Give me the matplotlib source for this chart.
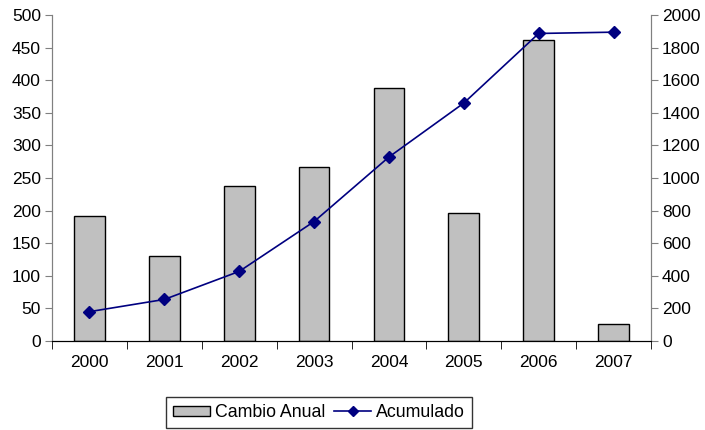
import matplotlib.pyplot as plt
import numpy as np

years = ['2000', '2001', '2002', '2003', '2004', '2005', '2006', '2007']
cambio_anual = [192, 130, 237, 267, 388, 197, 461, 26]
acumulado = [180, 255, 427, 733, 1129, 1460, 1887, 1895]

plt.rcParams['font.family'] = ['Liberation Sans', 'DejaVu Sans']
plt.rcParams['font.size'] = 12.5

fig = plt.figure(figsize=(7.05, 4.3), dpi=100)
ax = fig.add_axes([0.0738, 0.207, 0.8496, 0.758])
ax2 = ax.twinx()

x = np.arange(len(years))
bars = ax.bar(x, cambio_anual, width=0.41, color='#C0C0C0', edgecolor='black',
              linewidth=1, label='Cambio Anual', zorder=2)
line, = ax2.plot(x, acumulado, color='#000080', marker='D', markersize=6,
                 linewidth=1.2, label='Acumulado', zorder=3)

ax.set_xlim(-0.5, len(years) - 0.5)
ax.set_ylim(0, 500)
ax.set_yticks(range(0, 501, 50))
ax2.set_ylim(0, 2000)
ax2.set_yticks(range(0, 2001, 200))

# category labels centred, tick marks on the boundaries
ax.set_xticks(x)
ax.set_xticklabels(years)
ax.set_xticks(np.arange(-0.5, len(years), 1), minor=True)
ax.tick_params(axis='x', which='major', length=0, pad=10)
ax.tick_params(axis='x', which='minor', length=6, direction='out', color='black')
ax.tick_params(axis='y', length=5, direction='out', color='#808080', pad=3)
ax2.tick_params(axis='y', length=5, direction='out', color='#808080', pad=3)

for a in (ax, ax2):
    a.spines['top'].set_visible(False)
    a.spines['left'].set_color('#808080')
    a.spines['right'].set_color('#808080')
    a.spines['bottom'].set_color('black')

# Legend at the bottom
leg = fig.legend([bars, line], ['Cambio Anual', 'Acumulado'], loc='center',
                 bbox_to_anchor=(0.452, 0.04), ncol=2, frameon=True, fancybox=False,
                 handlelength=2.1, handleheight=0.55, handletextpad=0.25, columnspacing=0.5,
                 borderpad=0.4, borderaxespad=0, fontsize=12.8, markerscale=0.8)
leg.get_frame().set_edgecolor('black')
leg.get_frame().set_linewidth(1)

fig.savefig('out.png', dpi=100)
